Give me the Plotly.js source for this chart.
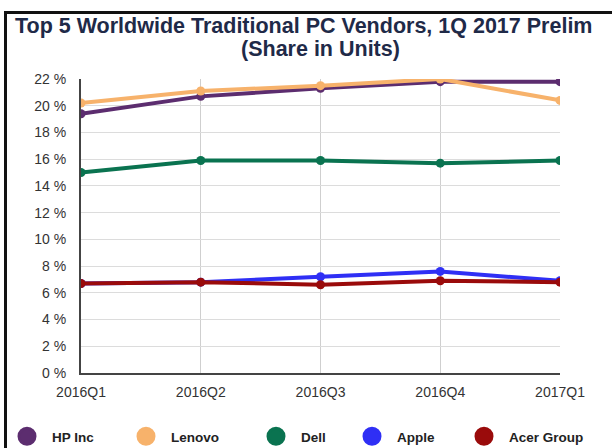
<!DOCTYPE html>
<html>
<head>
<meta charset="utf-8">
<script src="https://cdn.plot.ly/plotly-3.0.1.min.js"></script>
<style>
  html, body { margin: 0; padding: 0; background: #fff; }
  #wrap { position: relative; width: 612px; height: 448px; overflow: hidden; }
  #chart { position: absolute; left: 0; top: 0; width: 612px; height: 448px; }
  #frame { position: absolute; left: 4px; top: 11px; width: 620px; height: 450px;
           border-left: 3px solid #111; border-top: 3px solid #111; pointer-events: none; }
</style>
</head>
<body>
<div id="wrap"><div id="chart"></div><div id="frame"></div></div>
<script>
const quarters = ['2016Q1', '2016Q2', '2016Q3', '2016Q4', '2017Q1'];
const vendors = ['HP Inc', 'Lenovo', 'Dell', 'Apple', 'Acer Group'];
const hpInc  = [19.4, 20.7, 21.3, 21.8, 21.8];
const lenovo = [20.2, 21.1, 21.5, 22.0, 20.4];
const dell   = [15.0, 15.9, 15.9, 15.7, 15.9];
const apple  = [6.7, 6.8, 7.2, 7.6, 6.9];
const acer   = [6.7, 6.8, 6.6, 6.9, 6.8];
const seriesValues = [hpInc, lenovo, dell, apple, acer];
const colors = ['#5c2d6f', '#f7b26b', '#0a7350', '#2f2ff5', '#9a0b0b'];
const titleLine1 = 'Top 5 Worldwide Traditional PC Vendors, 1Q 2017 Prelim';
const titleLine2 = '(Share in Units)';

const FONT = 'Liberation Sans, Arial, sans-serif';

const traces = [];
const order = [2, 3, 4, 0, 1];
order.forEach(i => {
  traces.push({
    x: quarters, y: seriesValues[i], type: 'scatter', mode: 'lines+markers',
    name: vendors[i], showlegend: false,
    line: { color: colors[i], width: 4 },
    marker: { color: colors[i], size: 9 }
  });
});
const legendIds = ['legend', 'legend2', 'legend3', 'legend4', 'legend5'];
vendors.forEach((v, i) => {
  traces.push({
    x: [null], y: [null], type: 'scatter', mode: 'markers',
    name: v, showlegend: true, legend: legendIds[i],
    marker: { color: colors[i], size: 16, line: { color: colors[i], width: 3 } }
  });
});

const legendLeft = [2, 121, 251, 347, 459];

const layout = {
  width: 612, height: 448,
  paper_bgcolor: '#ffffff', plot_bgcolor: '#ffffff',
  margin: { l: 81, r: 52, t: 79, b: 75 },
  font: { family: FONT, color: '#333' },
  title: {
    text: titleLine1,
    font: { size: 21.5, color: '#1f2a48', family: FONT, weight: 'bold' },
    x: 15 / 612, xanchor: 'left', xref: 'container',
    y: 1 - 25.4 / 448, yref: 'container', yanchor: 'middle'
  },
  annotations: [{
    text: titleLine2, showarrow: false,
    font: { size: 21.5, color: '#1f2a48', family: FONT, weight: 'bold' },
    xref: 'paper', x: 0.5, xanchor: 'center',
    yref: 'paper', y: 1 + (79 - 48.5) / 294, yanchor: 'middle'
  }],
  xaxis: {
    type: 'category', range: [0, 4], showgrid: true, gridcolor: '#cfcfcf', gridwidth: 1,
    showline: true, linecolor: '#444', linewidth: 2, ticks: '', zeroline: false,
    tickfont: { size: 14, color: '#333' }, ticklabelstandoff: 5, fixedrange: true
  },
  yaxis: {
    range: [0, 22], dtick: 2, ticksuffix: ' %', showgrid: true, gridcolor: '#dcdcdc', gridwidth: 1,
    showline: true, linecolor: '#444', linewidth: 2, ticks: '', zeroline: false,
    tickfont: { size: 14, color: '#333' }, ticklabelstandoff: 10, fixedrange: true
  },
  showlegend: true
};

legendIds.forEach((id, i) => {
  layout[id] = {
    orientation: 'h', xref: 'container', x: legendLeft[i] / 612, xanchor: 'left',
    yref: 'container', y: 1 - 436.5 / 448, yanchor: 'middle',
    font: { size: 13.5, color: '#222', family: FONT, weight: 'bold' },
    itemsizing: 'trace', itemwidth: 40, bgcolor: 'rgba(0,0,0,0)'
  };
});

Plotly.newPlot('chart', traces, layout, { displayModeBar: false, staticPlot: true });
</script>
</body>
</html>
